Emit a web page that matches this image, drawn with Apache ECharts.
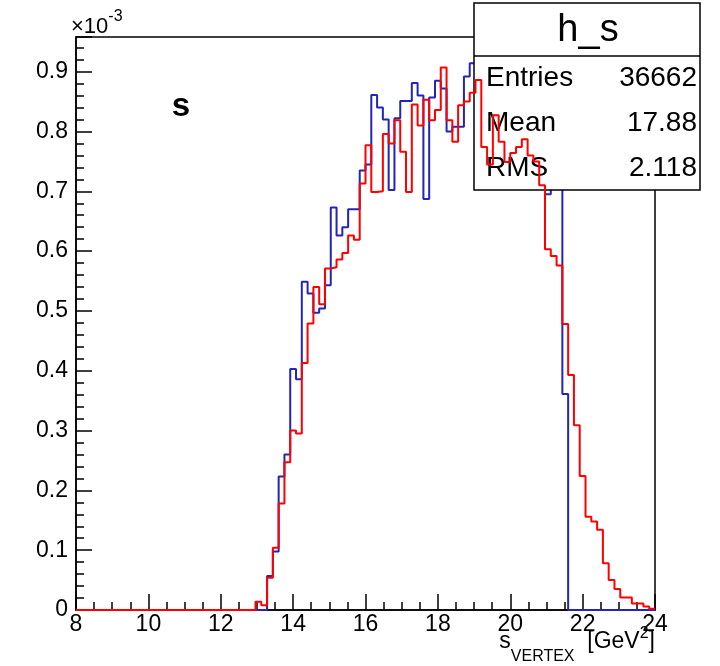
<!DOCTYPE html>
<html>
<head>
<meta charset="utf-8">
<script src="https://cdn.jsdelivr.net/npm/echarts@6/dist/echarts.min.js"></script>
<style>
  html, body { margin: 0; padding: 0; background: #fff; }
  #chart { width: 720px; height: 666px; }
</style>
</head>
<body>
<div id="chart"></div>
<script>
// histogram binning (100 bins from 8 to 24 GeV^2)
var xLo = 8, xHi = 24, nBins = 100;
var firstBin = 31; // bins before this are empty in both histograms

// bin contents, units of 1e-3, bins 31..99
var blueVals = [0, 0, 0.057, 0.098, 0.223, 0.260, 0.403, 0.386, 0.549, 0.529,
  0.497, 0.504, 0.543, 0.673, 0.626, 0.640, 0.670, 0.670, 0.735, 0.745,
  0.861, 0.840, 0.820, 0.702, 0.822, 0.851, 0.851, 0.881, 0.860, 0.687,
  0.857, 0.885, 0.872, 0.800, 0.808, 0.808, 0.892, 0.914, 0.900, 0.870,
  0.850, 0.880, 0.840, 0.820, 0.830, 0.840, 0.830, 0.800, 0.790, 0.760,
  0.695, 0.730, 0.740, 0.361, 0, 0, 0, 0, 0, 0,
  0, 0, 0, 0, 0, 0, 0, 0, 0];
var redVals = [0.014, 0.008, 0.054, 0.104, 0.178, 0.247, 0.300, 0.295, 0.413, 0.479,
  0.540, 0.511, 0.571, 0.573, 0.586, 0.597, 0.626, 0.619, 0.713, 0.777,
  0.699, 0.700, 0.796, 0.780, 0.819, 0.766, 0.699, 0.845, 0.810, 0.853,
  0.819, 0.836, 0.907, 0.819, 0.783, 0.844, 0.850, 0.865, 0.886, 0.774,
  0.745, 0.827, 0.783, 0.749, 0.764, 0.774, 0.787, 0.760, 0.750, 0.710,
  0.603, 0.592, 0.576, 0.478, 0.393, 0.309, 0.224, 0.156, 0.148, 0.134,
  0.078, 0.050, 0.035, 0.021, 0.021, 0.011, 0.011, 0.006, 0.002];

// stats box
var statNames = ['Entries', 'Mean', 'RMS'];
var statValues = ['36662', '17.88', '2.118'];
var yMax = 0.958;

var FONT = "'Liberation Sans', Arial, Helvetica, sans-serif";

function toSteps(vals) {
  var bw = (xHi - xLo) / nBins;
  var full = [];
  for (var i = 0; i < nBins; i++) full.push(0);
  vals.forEach(function (v, i) { full[firstBin + i] = v; });
  var pts = full.map(function (v, i) { return [xLo + i * bw, v]; });
  pts.push([xHi, full[nBins - 1]]);
  return pts;
}

var chart = echarts.init(document.getElementById('chart'));

var stats = [];
statNames.forEach(function (n, i) {
  var y = 78 + i * 45;
  stats.push({ type: 'text', z: 10, style: { text: n, x: 486, y: y, font: '28px ' + FONT, fill: '#000', align: 'left', verticalAlign: 'middle' } });
  stats.push({ type: 'text', z: 10, style: { text: statValues[i], x: 697, y: y, font: '28px ' + FONT, fill: '#000', align: 'right', verticalAlign: 'middle' } });
});

var option = {
  animation: false,
  backgroundColor: '#fff',
  grid: { left: 76, right: 65, top: 37, bottom: 56, show: true, borderColor: '#000', borderWidth: 1.5, backgroundColor: 'transparent' },
  xAxis: {
    type: 'value', min: xLo, max: xHi, interval: 2,
    axisLine: { lineStyle: { color: '#000', width: 1.5 } },
    axisTick: { inside: true, length: 16, lineStyle: { color: '#000', width: 1.5 } },
    minorTick: { show: true, splitNumber: 4, length: 8, lineStyle: { color: '#000', width: 1.5 } },
    axisLabel: { margin: 3, fontSize: 23, fontFamily: FONT, color: '#000' },
    splitLine: { show: false }
  },
  yAxis: [{
    type: 'value', min: 0, max: yMax, interval: 0.1, position: 'left',
    axisLine: { lineStyle: { color: '#000', width: 1.5 } },
    axisTick: { inside: true, length: 16, lineStyle: { color: '#000', width: 1.5 } },
    axisLabel: {
      margin: 8, fontSize: 23, fontFamily: FONT, color: '#000',
      formatter: function (v) {
        var k = v * 10;
        if (Math.abs(k - Math.round(k)) > 1e-6) return '';
        return v === 0 ? '0' : v.toFixed(1);
      }
    },
    splitLine: { show: false }
  }, {
    // minor ticks every 0.02
    type: 'value', min: 0, max: yMax, interval: 0.02, position: 'left',
    axisLine: { show: false },
    axisTick: { inside: true, length: 8, lineStyle: { color: '#000', width: 1.5 } },
    axisLabel: { show: false },
    splitLine: { show: false }
  }],
  graphic: {
    elements: [
      { type: 'text', z: 10, style: {
          text: '{a|×10}{sup|-3}', x: 71, y: 27, align: 'left', verticalAlign: 'middle',
          rich: { a: { font: '22px ' + FONT, fill: '#000' }, sup: { font: '16px ' + FONT, fill: '#000', padding: [0, 0, 20, 0] } }
      } },
      { type: 'text', z: 10, style: { text: 's', x: 181, y: 107, font: 'bold 33px ' + FONT, fill: '#000', align: 'center', verticalAlign: 'middle' } },
      { type: 'text', z: 10, style: {
          text: '{a|s}{sub|VERTEX}{a|  [GeV}{sup|2}{a|]}', x: 655, y: 642, align: 'right', verticalAlign: 'middle',
          rich: {
            a: { font: '23px ' + FONT, fill: '#000' },
            sub: { font: '16px ' + FONT, fill: '#000', padding: [30, 0, 0, 0] },
            sup: { font: '16px ' + FONT, fill: '#000', padding: [0, 0, 16, 0] }
          }
      } },
      { type: 'rect', z: 8, shape: { x: 474, y: 3, width: 226, height: 187 }, style: { fill: '#fff', stroke: '#000', lineWidth: 1.5 } },
      { type: 'line', z: 9, shape: { x1: 474, y1: 56, x2: 700, y2: 56 }, style: { stroke: '#000', lineWidth: 1.5 } },
      { type: 'text', z: 10, style: { text: 'h_s', x: 588, y: 31, font: '38px ' + FONT, fill: '#000', align: 'center', verticalAlign: 'middle' } }
    ].concat(stats)
  },
  series: [{
    type: 'line', name: 'blue', step: 'end', z: 5, showSymbol: false, silent: true,
    data: toSteps(blueVals),
    lineStyle: { color: '#2424b8', width: 2 }
  }, {
    type: 'line', name: 'red', step: 'end', z: 20, showSymbol: false, silent: true,
    data: toSteps(redVals),
    lineStyle: { color: '#ff0000', width: 2 }
  }]
};
chart.setOption(option);
</script>
</body>
</html>
